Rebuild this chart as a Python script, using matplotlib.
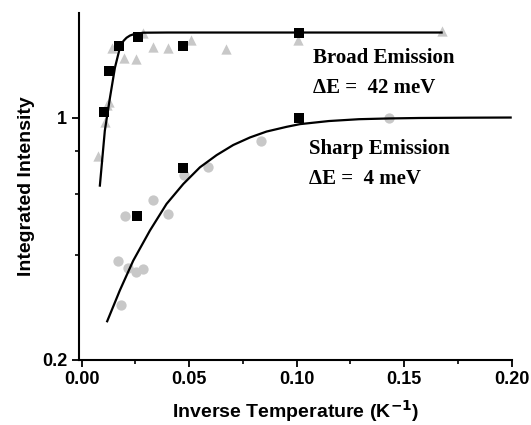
import matplotlib
matplotlib.use('Agg')
import matplotlib.pyplot as plt
from matplotlib.ticker import FixedLocator, NullFormatter

# broad emission: black squares + grey triangles, fit curve
broad_sq_x = [0.0105, 0.0128, 0.0173, 0.0260, 0.0473, 0.1012]
broad_sq_y = [1.04, 1.36, 1.61, 1.71, 1.61, 1.76]
broad_tri_x = [0.0078, 0.0108, 0.0118, 0.0126, 0.0142, 0.0197, 0.0253, 0.0285,
               0.0334, 0.0400, 0.0508, 0.0671, 0.1007, 0.1674]
broad_tri_y = [0.775, 0.97, 1.09, 1.11, 1.59, 1.49, 1.48, 1.76,
               1.60, 1.59, 1.67, 1.58, 1.68, 1.78]
broad_fit_x = [0.0085, 0.0108, 0.0132, 0.0155, 0.0178, 0.0195, 0.0209, 0.0225,
               0.0240, 0.0287, 0.0400, 0.1674]
broad_fit_y = [0.636, 0.916, 1.142, 1.393, 1.591, 1.665, 1.70, 1.725,
               1.738, 1.758, 1.76, 1.76]

# sharp emission: black squares + grey circles, fit curve
sharp_sq_x = [0.0259, 0.0470, 0.1012]
sharp_sq_y = [0.519, 0.713, 1.0]
sharp_dot_x = [0.0183, 0.0167, 0.0217, 0.0253, 0.0287, 0.0201, 0.0333,
               0.0400, 0.0476, 0.0589, 0.0834, 0.1431]
sharp_dot_y = [0.287, 0.384, 0.368, 0.359, 0.365, 0.518, 0.578,
               0.527, 0.684, 0.718, 0.858, 1.0]
sharp_fit_x = [0.0119, 0.0178, 0.0240, 0.0318, 0.0395, 0.0473, 0.0550, 0.0628,
               0.0705, 0.0783, 0.0860, 0.0953, 0.1015, 0.1150, 0.1290, 0.1430,
               0.1570, 0.1800, 0.1995]
sharp_fit_y = [0.258, 0.317, 0.386, 0.472, 0.563, 0.643, 0.718, 0.779,
               0.833, 0.876, 0.911, 0.940, 0.957, 0.977, 0.989, 0.994,
               0.997, 0.999, 1.0]

grey = '#c8c8c8'

fig = plt.figure(figsize=(5.31, 4.25), dpi=100)
ax = fig.add_axes([0.1488, 0.154, 0.8149, 0.8147])

ax.plot(broad_fit_x, broad_fit_y, color='black', lw=1.6, zorder=2)
ax.plot(sharp_fit_x, sharp_fit_y, color='black', lw=1.6, zorder=2)
ax.scatter(broad_tri_x, broad_tri_y, marker='^', s=55, color=grey, lw=0, zorder=1)
ax.scatter(sharp_dot_x, sharp_dot_y, marker='o', s=55, color=grey, lw=0, zorder=1)
ax.scatter(broad_sq_x, broad_sq_y, marker='s', s=50, color='black', lw=0, zorder=3)
ax.scatter(sharp_sq_x, sharp_sq_y, marker='s', s=50, color='black', lw=0, zorder=3)

ax.set_yscale('log')
ax.set_ylim(0.2, 2.0)
ax.set_xlim(-0.0012, 0.2)

ax.yaxis.set_major_locator(FixedLocator([0.2, 1]))
ax.set_yticklabels(['0.2', '1'])
ax.yaxis.set_minor_locator(FixedLocator([0.4, 0.6, 0.8]))
ax.yaxis.set_minor_formatter(NullFormatter())
ax.set_xticks([0.0, 0.05, 0.10, 0.15, 0.20])
ax.set_xticklabels(['0.00', '0.05', '0.10', '0.15', '0.20'])
ax.set_xticks([0.025, 0.075, 0.125, 0.175], minor=True)

for s in ['top', 'right']:
    ax.spines[s].set_visible(False)
for s in ['left', 'bottom']:
    ax.spines[s].set_linewidth(1.5)
ax.tick_params(which='major', length=5, width=1.3, labelsize=13)
ax.tick_params(which='minor', length=3, width=1.2)
for lab in ax.get_xticklabels() + ax.get_yticklabels():
    lab.set_fontweight('bold')
    lab.set_family('Liberation Sans')

ax.set_xlabel('Inverse Temperature (K$^{\\mathbf{-1}}$)', fontsize=14, fontweight='bold',
              family='Liberation Sans', labelpad=7)
ax.set_ylabel('Integrated Intensity', fontsize=14, fontweight='bold',
              family='Liberation Sans', labelpad=5)

tfont = dict(family='Liberation Serif', fontweight='bold', fontsize=15)
ax.text(313, 425 - 58, 'Broad Emission', transform=None, va='center', **tfont)
ax.text(313, 425 - 88, '\u0394E =  42 meV', transform=None, va='center', **tfont)
ax.text(309, 425 - 149, 'Sharp Emission', transform=None, va='center', **tfont)
ax.text(309, 425 - 179, '\u0394E =  4 meV', transform=None, va='center', **tfont)

fig.savefig('out.png', dpi=100)
